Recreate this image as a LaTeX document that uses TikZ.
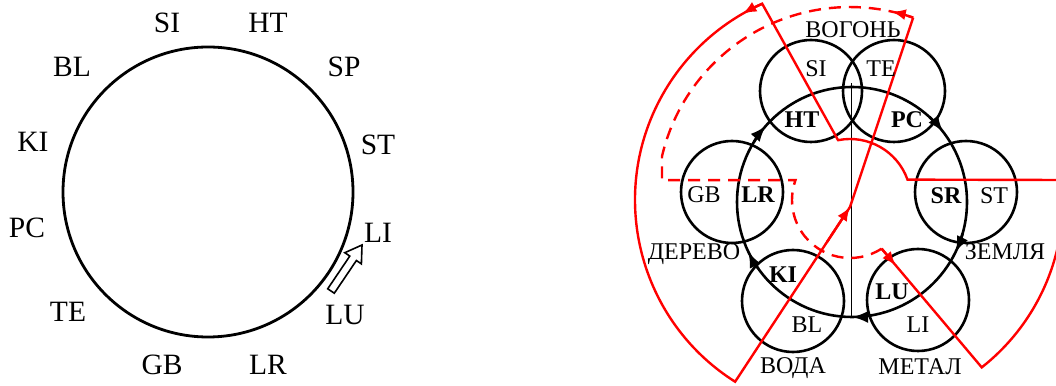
\documentclass[tikz,border=0pt]{standalone}
\usepackage{fontspec}
\setmainfont{Liberation Serif}
\usetikzlibrary{arrows.meta,calc}
\begin{document}
\begin{tikzpicture}[x=1pt,y=1pt,
  lbl/.style={anchor=base,inner sep=0pt,font=\fontsize{29.5}{29.5}\selectfont},
  rl/.style={anchor=base,inner sep=0pt,font=\fontsize{24}{24}\selectfont},
  rb/.style={anchor=base,inner sep=0pt,font=\fontsize{24}{24}\selectfont\bfseries},
  blk/.style={line width=2.6pt,black},
  redl/.style={line width=2.4pt,red,line join=miter},
  redd/.style={redl,dash pattern=on 12pt off 8pt},
  btip/.style={-{Latex[length=16pt,width=12pt]}},
  rtip/.style={-{Latex[length=14pt,width=11pt]}},
]
\useasboundingbox (0,0) rectangle (1056,385);
\clip (0,0) rectangle (1056,385);
% ---------- left clock ----------
\coordinate (Lc) at (208,193);
\draw[line width=2.8pt] (Lc) circle[radius=145];
\draw[line width=1.6pt,fill=white,line join=miter]
  (334.3,91.8) -- (356.4,124.5) -- (361.4,121.1) -- (362,140) --
  (344.8,132.3) -- (349.8,128.9) -- (327.7,96.2) -- cycle;
\node[lbl] (lSI) at (167,352) {SI};
\node[lbl] (lHT) at (268,352) {HT};
\node[lbl] (lBL) at (72,308) {BL};
\node[lbl] (lSP) at (344,308) {SP};
\node[lbl] (lKI) at (33,233) {KI};
\node[lbl] (lST) at (378,230) {ST};
\node[lbl] (lPC) at (27,147) {PC};
\node[lbl] (lLI) at (378,142) {LI};
\node[lbl] (lTE) at (68,63) {TE};
\node[lbl] (lLU) at (345,60) {LU};
\node[lbl] (lGB) at (162,10) {GB};
\node[lbl] (lLR) at (268,10) {LR};
% ---------- right: five elements ----------
\coordinate (Cb) at (852,183);
\draw[blk] (Cb) circle[radius=115];
\foreach \a in {138.5,37.6,-25.9,-90,205.5}
  \draw[blk,btip] ($(Cb)+(\a+10:115)$) arc[start angle=\a+10,end angle=\a,radius=115];
\draw[blk] (811,294) circle[radius=51];
\draw[blk] (894,294) circle[radius=51];
\draw[blk] (732,193) circle[radius=51];
\draw[blk] (966,193) circle[radius=51];
\draw[blk] (793,84) circle[radius=51];
\draw[blk] (918,85) circle[radius=51];
\coordinate (Vt) at (851,302);
\coordinate (Vb) at (851,68);
\draw[line width=1pt] (Vt) -- (Vb);
% red meridian flow
\coordinate (Cr) at (850,185);
\coordinate (P1) at ($(Cr)+(237.7:215)$);
\coordinate (P3) at ($(Cr)+(101.3:61)$);
\coordinate (Hr) at (1062.06,205);
\coordinate (P5) at ($(Cr)+(-51.8:213)$);
\coordinate (P7) at ($(Cr)+(-57:58)$);
\coordinate (P8) at ($(Cr)+(70.9:193)$);
\coordinate (Q) at (850,178);
\draw[redl] (P8) -- (Q) -- (P1)
  arc[start angle=237.7,end angle=114.1,radius=215] -- (P3)
  arc[start angle=101.3,end angle=19.5,radius=61] -- (Hr)
  arc[start angle=5.39,end angle=-51.8,radius=213] -- (P7);
\draw[redd] (P7) arc[start angle=303,end angle=160,radius=58]
  -- (662,204.8) -- (662,228.7)
  arc[start angle=166.9,end angle=70.9,radius=193];
\draw[redl,rtip] ($(P1)!0.8!(Q)$) -- (Q);
\draw[redl,rtip] ($(Cr)+(114.1:215)$) arc[start angle=114.1,end angle=120,radius=215];
\draw[redl,rtip] (P8) arc[start angle=70.9,end angle=77.5,radius=193];
\draw[redl,rtip] (P7) -- ($(P7)!22pt!(P5)$);
% labels
\node[rl] (fire) at (853,347) {ВОГОНЬ};
\node[rl] (rSI) at (816,308) {SI};
\node[rl] (rTE) at (881,308) {TE};
\node[rb] (rHT) at (802,257) {HT};
\node[rb] (rPC) at (907,257) {PC};
\node[rl] (rGB) at (704,182) {GB};
\node[rb] (rLR) at (758,182) {LR};
\node[rb] (rSR) at (946,181) {SR};
\node[rl] (rST) at (994,181) {ST};
\node[rl] (wood) at (694,125) {ДЕРЕВО};
\node[rl] (earth) at (1005,125) {ЗЕМЛЯ};
\node[rb] (rKI) at (783,102) {KI};
\node[rb] (rLU) at (892,85) {LU};
\node[rl] (rBL) at (807,52) {BL};
\node[rl] (rLI) at (918,52) {LI};
\node[rl] (water) at (793,11) {ВОДА};
\node[rl] (metal) at (920,10) {МЕТАЛ};
\end{tikzpicture}
\end{document}
